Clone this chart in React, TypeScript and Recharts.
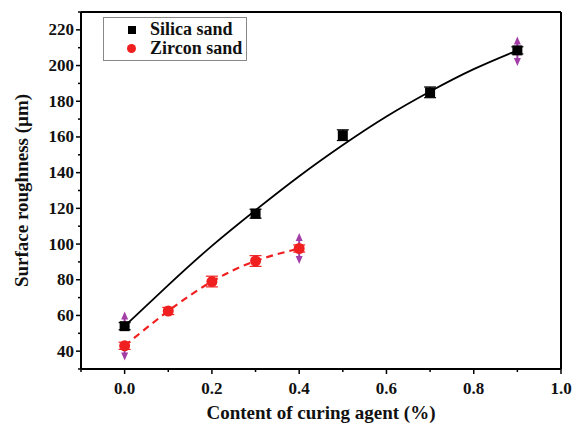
import React from 'react';
import {
  ComposedChart,
  Line,
  Scatter,
  XAxis,
  YAxis,
  ErrorBar,
  ReferenceLine,
  Legend,
} from 'recharts';

const silicaX = [0, 0.3, 0.5, 0.7, 0.9];
const silicaY = [54, 117, 161, 185, 208.5];
const silicaErr = [2, 2.5, 3, 3, 2];

// fitted curve
const silicaFitX = [0, 0.1, 0.2, 0.3, 0.4, 0.5, 0.6, 0.7, 0.8, 0.9];
const silicaFitY = [54, 77, 99, 119, 138, 155.5, 171.5, 185.5, 198, 208.5];

const zirconX = [0, 0.1, 0.2, 0.3, 0.4];
const zirconY = [43, 62.5, 79, 90.5, 97.5];
const zirconErr = [2, 2, 3, 3, 2];

const arrowUpX = [0, 0.9, 0.4];
const arrowUpY = [60, 214, 104];
const arrowDownX = [0, 0.9, 0.4];
const arrowDownY = [37, 202, 91];

const xTicks = [-0.1, 0, 0.1, 0.2, 0.3, 0.4, 0.5, 0.6, 0.7, 0.8, 0.9, 1.0];
const xMajor = ['0.0', '0.2', '0.4', '0.6', '0.8', '1.0'];
const yTicks = [30, 40, 50, 60, 70, 80, 90, 100, 110, 120, 130, 140, 150, 160, 170, 180, 190, 200, 210, 220, 230];
const yMajor = [40, 60, 80, 100, 120, 140, 160, 180, 200, 220];

const silicaData = silicaX.map((x, i) => ({ x, y: silicaY[i], err: silicaErr[i] }));
const silicaFit = silicaFitX.map((x, i) => ({ x, y: silicaFitY[i] }));
const zirconData = zirconX.map((x, i) => ({ x, y: zirconY[i], err: zirconErr[i] }));
const upData = arrowUpX.map((x, i) => ({ x, y: arrowUpY[i] }));
const downData = arrowDownX.map((x, i) => ({ x, y: arrowDownY[i] }));

const FONT = 'Liberation Serif, Times New Roman, serif';
const PURPLE = '#a23ea6';
const RED = '#f02020';

const XTick = (props: any) => {
  const { x, y, payload } = props;
  const label = payload.value.toFixed(1);
  const major = xMajor.includes(label);
  return (
    <g>
      <line x1={x} x2={x} y1={y} y2={y + (major ? 5 : 3)} stroke="#000" strokeWidth={1.5} />
      {major && (
        <text x={x} y={y + 25} textAnchor="middle" style={{ fontFamily: FONT, fontWeight: 'bold', fontSize: 17 }} fill="#111">
          {label}
        </text>
      )}
    </g>
  );
};

const YTick = (props: any) => {
  const { x, y, payload } = props;
  const major = yMajor.includes(payload.value);
  return (
    <g>
      <line x1={x} x2={x - (major ? 5 : 3)} y1={y} y2={y} stroke="#000" strokeWidth={1.5} />
      {major && (
        <text x={x - 7} y={y + 5.5} textAnchor="end" style={{ fontFamily: FONT, fontWeight: 'bold', fontSize: 17 }} fill="#111">
          {payload.value}
        </text>
      )}
    </g>
  );
};

const UpArrow = (props: any) => {
  const { cx, cy } = props;
  return (
    <g>
      <line x1={cx} x2={cx} y1={cy + 2} y2={cy + 10} stroke={PURPLE} strokeWidth={2} />
      <polygon points={`${cx - 3.5},${cy + 4} ${cx + 3.5},${cy + 4} ${cx},${cy - 4}`} fill={PURPLE} />
    </g>
  );
};

const DownArrow = (props: any) => {
  const { cx, cy } = props;
  return (
    <g>
      <line x1={cx} x2={cx} y1={cy - 10} y2={cy - 2} stroke={PURPLE} strokeWidth={2} />
      <polygon points={`${cx - 3.5},${cy - 4} ${cx + 3.5},${cy - 4} ${cx},${cy + 4}`} fill={PURPLE} />
    </g>
  );
};

const SquareDot = (props: any) => {
  const { cx, cy } = props;
  return <rect x={cx - 5} y={cy - 5} width={10} height={10} fill="#000" />;
};

const CircleDot = (props: any) => {
  const { cx, cy } = props;
  return <circle cx={cx} cy={cy} r={5.5} fill={RED} />;
};

const LegendBox = () => (
  <div
    style={{
      border: '1px solid #888',
      width: 144,
      height: 44,
      boxSizing: 'border-box',
      fontFamily: FONT,
      fontWeight: 'bold',
      fontSize: 18,
      lineHeight: '19px',
      color: '#111',
      background: '#fff',
      padding: '2px 0 0 0',
    }}
  >
    <div style={{ display: 'flex', alignItems: 'center', height: 19 }}>
      <span style={{ display: 'inline-block', width: 8, height: 8, background: '#000', marginLeft: 24, marginRight: 14 }} />
      <span>Silica sand</span>
    </div>
    <div style={{ display: 'flex', alignItems: 'center', height: 19 }}>
      <span style={{ display: 'inline-block', width: 9, height: 9, borderRadius: '50%', background: RED, marginLeft: 23, marginRight: 14 }} />
      <span>Zircon sand</span>
    </div>
  </div>
);

export default function App() {
  return (
    <div style={{ position: 'absolute', left: 0, top: 0, background: '#fff' }}>
      <ComposedChart width={581} height={428} margin={{ top: 12, right: 20, left: 0, bottom: 0 }}>
        <XAxis
          dataKey="x"
          type="number"
          domain={[-0.1, 1.0]}
          ticks={xTicks}
          interval={0}
          allowDataOverflow
          tick={<XTick />}
          tickLine={false}
          tickSize={0}
          tickMargin={0}
          height={59}
          axisLine={{ stroke: '#000', strokeWidth: 2 }}
          label={{
            value: 'Content of curing agent (%)',
            position: 'insideBottom',
            offset: 9,
            style: { fontFamily: FONT, fontWeight: 'bold', fontSize: 19, fill: '#111' },
          }}
        />
        <YAxis
          dataKey="y"
          type="number"
          domain={[30, 230]}
          ticks={yTicks}
          interval={0}
          allowDataOverflow
          tick={<YTick />}
          tickLine={false}
          tickSize={0}
          tickMargin={0}
          width={81}
          axisLine={{ stroke: '#000', strokeWidth: 2 }}
          label={{
            value: 'Surface roughness (\u00b5m)',
            angle: -90,
            position: 'insideLeft',
            offset: 21,
            style: { fontFamily: FONT, fontWeight: 'bold', fontSize: 19, fill: '#111', textAnchor: 'middle' },
          }}
        />
        <ReferenceLine y={230} stroke="#000" strokeWidth={2} ifOverflow="extendDomain" />
        <ReferenceLine x={1.0} stroke="#000" strokeWidth={2} ifOverflow="extendDomain" />
        <Legend
          layout="horizontal"
          verticalAlign="middle"
          align="center"
          content={() => <LegendBox />}
          wrapperStyle={{ position: 'absolute', left: 103, top: 17, width: 144, height: 44 }}
        />
        <Line
          data={silicaFit}
          dataKey="y"
          type="natural"
          stroke="#000"
          strokeWidth={1.8}
          dot={false}
          activeDot={false}
          isAnimationActive={false}
          legendType="none"
        />
        <Line
          data={zirconData}
          dataKey="y"
          type="natural"
          stroke={RED}
          strokeWidth={2.2}
          strokeDasharray="7 5"
          dot={false}
          activeDot={false}
          isAnimationActive={false}
          legendType="none"
        />
        <Scatter data={upData} dataKey="y" shape={<UpArrow />} isAnimationActive={false} legendType="none" />
        <Scatter data={downData} dataKey="y" shape={<DownArrow />} isAnimationActive={false} legendType="none" />
        <Scatter data={silicaData} dataKey="y" shape={<SquareDot />} isAnimationActive={false}>
          <ErrorBar dataKey="err" direction="y" width={6} stroke="#000" strokeWidth={1.2} />
        </Scatter>
        <Scatter data={zirconData} dataKey="y" shape={<CircleDot />} isAnimationActive={false}>
          <ErrorBar dataKey="err" direction="y" width={6} stroke={RED} strokeWidth={1.2} />
        </Scatter>
      </ComposedChart>
    </div>
  );
}
